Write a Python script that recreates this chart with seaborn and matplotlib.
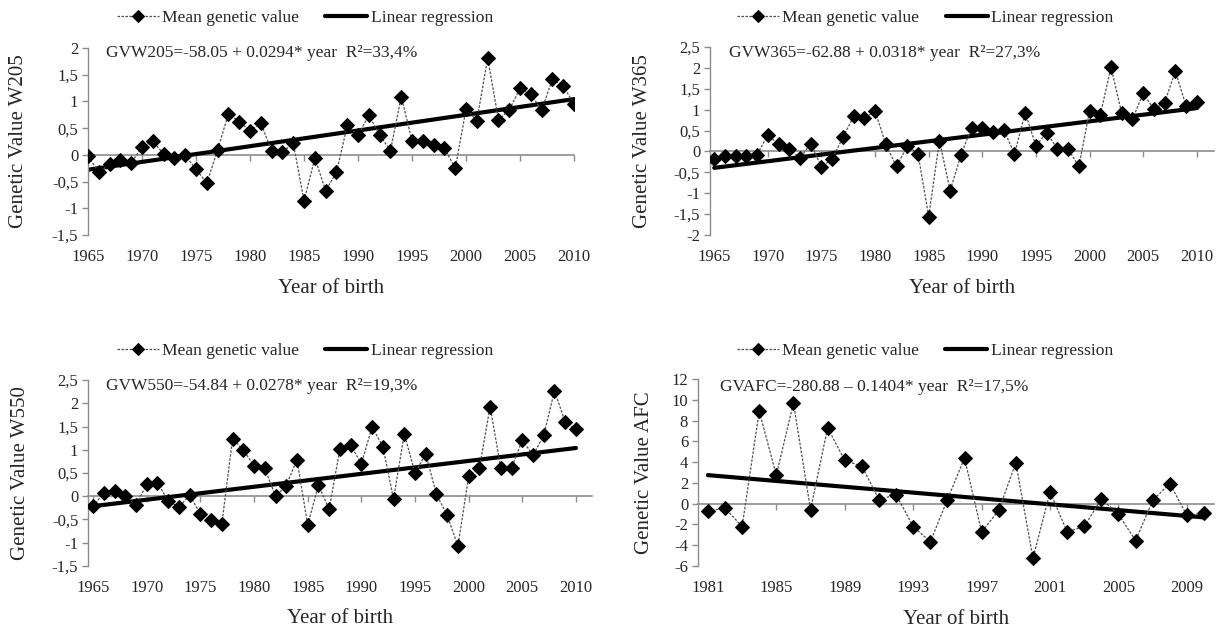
import numpy as np
import pandas as pd
import matplotlib
matplotlib.use("Agg")
import matplotlib.pyplot as plt
from matplotlib.ticker import FuncFormatter
import seaborn as sns

# ---- data ----
years_w = list(range(1965, 2011))
years_afc = list(range(1981, 2011))

gv_w205 = [-0.03, -0.32, -0.18, -0.10, -0.15, 0.15, 0.25, 0.02, -0.05, -0.01,
           -0.27, -0.53, 0.10, 0.77, 0.62, 0.45, 0.60, 0.07, 0.05, 0.22,
           -0.86, -0.06, -0.67, -0.33, 0.55, 0.37, 0.74, 0.37, 0.08, 1.09,
           0.26, 0.25, 0.19, 0.12, -0.25, 0.86, 0.64, 1.81, 0.66, 0.84,
           1.25, 1.13, 0.84, 1.42, 1.28, 0.96]
gv_w365 = [-0.18, -0.12, -0.10, -0.10, -0.08, 0.40, 0.17, 0.06, -0.16, 0.19,
           -0.37, -0.18, 0.34, 0.84, 0.79, 0.97, 0.17, -0.36, 0.13, -0.05,
           -1.56, 0.26, -0.94, -0.09, 0.57, 0.56, 0.46, 0.52, -0.06, 0.93,
           0.13, 0.45, 0.06, 0.06, -0.36, 0.97, 0.87, 2.02, 0.91, 0.77,
           1.39, 1.01, 1.17, 1.92, 1.09, 1.19]
gv_w550 = [-0.22, 0.08, 0.11, 0.01, -0.19, 0.26, 0.29, -0.10, -0.24, 0.03,
           -0.39, -0.52, -0.59, 1.24, 0.99, 0.66, 0.60, 0.00, 0.23, 0.79,
           -0.62, 0.24, -0.28, 1.02, 1.10, 0.70, 1.49, 1.07, -0.06, 1.34,
           0.50, 0.91, 0.04, -0.41, -1.07, 0.43, 0.60, 1.93, 0.60, 0.61,
           1.21, 0.88, 1.31, 2.27, 1.59, 1.45]
gv_afc = [-0.74, -0.42, -2.2, 8.9, 2.74, 9.7, -0.58, 7.3, 4.16, 3.61,
          0.39, 0.87, -2.2, -3.68, 0.39, 4.39, -2.71, -0.65, 3.94, -5.26,
          1.13, -2.71, -2.19, 0.45, -1.03, -3.55, 0.32, 1.94, -1.13, -0.9]

# regression coefficients (intercept, slope) from the equations
coef_w205 = (-58.05, 0.0294)
coef_w365 = (-62.88, 0.0318)
coef_w550 = (-54.84, 0.0278)
coef_afc = (280.88, -0.1404)

eq_texts = ["GVW205=-58.05 + 0.0294* year  R²=33,4%",
            "GVW365=-62.88 + 0.0318* year  R²=27,3%",
            "GVW550=-54.84 + 0.0278* year  R²=19,3%",
            "GVAFC=-280.88 \u2013 0.1404* year  R²=17,5%"]
ylabels = ["Genetic Value W205", "Genetic Value W365",
           "Genetic Value W550", "Genetic Value AFC"]

sns.set_style("white")
plt.rcParams['font.family'] = ['Liberation Serif', 'DejaVu Serif']

fig = plt.figure(figsize=(12.23, 6.3), dpi=100)

panels = [
    dict(rect=[0.0720, 0.6270, 0.3974, 0.2968], x=years_w, y=gv_w205, coef=coef_w205,
         xlim=(1965, 2010), ylim=(-1.5, 2), ystep=0.5, xticks=range(1965, 2011, 5),
         leg=(0.446, 1.16), ylab_x=-0.144, eq=(0.037, 0.973)),
    dict(rect=[0.5805, 0.6270, 0.4121, 0.2984], x=years_w, y=gv_w365, coef=coef_w365,
         xlim=(1964.6, 2011.6), ylim=(-2, 2.5), ystep=0.5, xticks=range(1965, 2011, 5),
         leg=(0.427, 1.154), ylab_x=-0.133, eq=(0.038, 0.968)),
    dict(rect=[0.0720, 0.1016, 0.4121, 0.2952], x=years_w, y=gv_w550, coef=coef_w550,
         xlim=(1964.53, 2011.5), ylim=(-1.5, 2.5), ystep=0.5, xticks=range(1965, 2011, 5),
         leg=(0.43, 1.156), ylab_x=-0.135, eq=(0.036, 0.968)),
    dict(rect=[0.5707, 0.1016, 0.4219, 0.2968], x=years_afc, y=gv_afc, coef=coef_afc,
         xlim=(1980.42, 2010.58), ylim=(-6, 12), ystep=2, xticks=range(1981, 2011, 4),
         leg=(0.44, 1.15), ylab_x=-0.103, eq=(0.043, 0.957)),
]

comma = FuncFormatter(lambda v, p: f"{v:g}".replace('.', ','))
grey = "#8c8c8c"

for i, p in enumerate(panels):
    ax = fig.add_axes(p["rect"])
    df = pd.DataFrame({"year": p["x"], "gv": p["y"]})
    df["fit"] = p["coef"][0] + p["coef"][1] * df["year"]

    sns.lineplot(data=df, x="year", y="gv", ax=ax, color="#505050", lw=0.9,
                 linestyle=(0, (2.0, 1.2)), marker="D", markersize=7,
                 markerfacecolor="black", markeredgecolor="black",
                 label="Mean genetic value", zorder=3)
    sns.lineplot(data=df, x="year", y="fit", ax=ax, color="black", lw=3,
                 label="Linear regression", zorder=2)

    ax.set_xlim(p["xlim"])
    ax.set_ylim(p["ylim"])
    ax.set_yticks(np.arange(p["ylim"][0], p["ylim"][1] + 1e-9, p["ystep"]))
    ax.yaxis.set_major_formatter(comma)
    ax.set_xticks(list(p["xticks"]))

    for s in ["top", "right", "bottom"]:
        ax.spines[s].set_visible(False)
    ax.spines["left"].set_color(grey)
    ax.spines["left"].set_linewidth(1)
    ax.tick_params(axis="y", direction="out", length=4, width=1, color=grey,
                   labelsize=12, pad=3, left=True)
    ax.tick_params(axis="x", length=0, labelsize=12, pad=10)

    # zero line acting as the x axis, with tick marks
    frac = (0 - p["ylim"][0]) / (p["ylim"][1] - p["ylim"][0])
    sec = ax.secondary_xaxis(frac)
    sec.set_xticks(list(p["xticks"]))
    sec.spines["bottom"].set_color(grey)
    sec.spines["bottom"].set_linewidth(1.2)
    sec.tick_params(direction="out", length=4, width=1, color=grey, labelbottom=False)

    ax.set_xlabel("Year of birth", fontsize=15, va="center")
    ax.xaxis.set_label_coords(0.5, -0.285)
    ax.set_ylabel(ylabels[i], fontsize=15, va="center")
    ax.yaxis.set_label_coords(p["ylab_x"], 0.5)

    ax.text(p["eq"][0], p["eq"][1], eq_texts[i], transform=ax.transAxes,
            fontsize=12.5, va="center", ha="left")

    ax.legend(loc="center", bbox_to_anchor=p["leg"], ncol=2, frameon=False,
              fontsize=12.6, handlelength=2.4, columnspacing=1.5, handletextpad=0.2,
              markerscale=0.9)

fig.savefig("out.png", dpi=100)
